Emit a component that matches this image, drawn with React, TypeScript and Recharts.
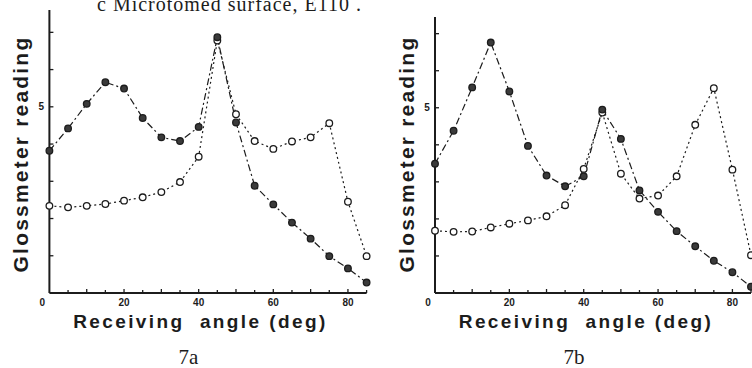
import React from "react"
import { LineChart, Line, XAxis, YAxis } from "recharts"

const angles = [0, 5, 10, 15, 20, 25, 30, 35, 40, 45, 50, 55, 60, 65, 70, 75, 80, 85]

// panel 7a
const filledA = [3.82, 4.42, 5.08, 5.66, 5.49, 4.7, 4.18, 4.08, 4.46, 6.87, 4.58, 2.88, 2.38, 1.89, 1.46, 0.99, 0.66, 0.28]
const openA = [2.34, 2.3, 2.34, 2.39, 2.48, 2.57, 2.71, 2.98, 3.66, 6.78, 4.8, 4.08, 3.87, 4.07, 4.18, 4.56, 2.45, 0.99]

// panel 7b
const filledB = [3.49, 4.38, 5.55, 6.76, 5.44, 3.97, 3.17, 2.88, 3.15, 4.95, 4.16, 2.77, 2.19, 1.67, 1.26, 0.87, 0.56, 0.17]
const openB = [1.68, 1.65, 1.66, 1.77, 1.87, 1.96, 2.07, 2.37, 3.35, 4.87, 3.22, 2.55, 2.63, 3.15, 4.54, 5.53, 3.33, 1.02]

const xTicks = [0, 5, 10, 15, 20, 25, 30, 35, 40, 45, 50, 55, 60, 65, 70, 75, 80, 85]
const xLabels = [0, 20, 40, 60, 80]
const yTicks = [0, 1, 2, 3, 4, 5, 6, 7]
const yLabels = [5]

const ink = "#1c1c1c"
const tickFont = "'Liberation Sans', Arial, sans-serif"

function XTick(props: any) {
  const { x, y, payload } = props
  const v = payload.value
  const show = xLabels.includes(v)
  return (
    <g>
      {v !== 0 && <line x1={x} y1={y} x2={x} y2={y - (v % 10 === 0 ? 4 : 3)} stroke={ink} strokeWidth={1.3} />}
      {show && (
        <text x={v === 0 ? x - 7 : x} y={y + 13} textAnchor="middle" fontSize={10} fontWeight="bold" fontFamily={tickFont} fill={ink}>
          {v}
        </text>
      )}
    </g>
  )
}

function YTick(props: any) {
  const { x, y, payload } = props
  const v = payload.value
  if (v === 0) return <g />
  return (
    <g>
      <line x1={x} y1={y} x2={x + 4} y2={y} stroke={ink} strokeWidth={1.3} />
      {yLabels.includes(v) && (
        <text x={x - 8} y={y + 3} textAnchor="middle" fontSize={10} fontWeight="bold" fontFamily={tickFont} fill={ink}>
          {v}
        </text>
      )}
    </g>
  )
}

function Panel({ filled, open, left, right, top, yMax, caption }: any) {
  const data = angles.map((a, i) => ({ angle: a, filled: filled[i], open: open[i] }))
  return (
    <div style={{ position: "relative", width: 376, height: 368 }}>
      <LineChart width={376} height={368} data={data} margin={{ top, right, bottom: 0, left: 0 }}>
        <XAxis
          dataKey="angle"
          type="number"
          domain={[0, 85]}
          ticks={xTicks}
          height={75}
          tickSize={0}
          tickMargin={0}
          tick={<XTick />}
          tickLine={false}
          axisLine={{ stroke: ink, strokeWidth: 2 }}
          interval={0}
        />
        <YAxis
          type="number"
          domain={[0, yMax]}
          ticks={yTicks}
          width={left}
          tickSize={0}
          tickMargin={0}
          tick={<YTick />}
          tickLine={false}
          axisLine={{ stroke: ink, strokeWidth: 2 }}
          interval={0}
        />
        <Line
          dataKey="open"
          stroke={ink}
          strokeWidth={1.2}
          strokeDasharray="2 3"
          dot={{ r: 3.3, fill: "#fff", stroke: ink, strokeWidth: 1.3, strokeDasharray: "none" }}
          isAnimationActive={false}
        />
        <Line
          dataKey="filled"
          stroke={ink}
          strokeWidth={1.2}
          strokeDasharray="7 3 2 3"
          dot={{ r: 3.3, fill: "#3a3a3a", stroke: ink, strokeWidth: 1.3, strokeDasharray: "none" }}
          isAnimationActive={false}
        />
      </LineChart>
      <div
        style={{
          position: "absolute",
          left: left - 28,
          top: 154,
          transform: "translate(-50%, -50%) rotate(-90deg)",
          whiteSpace: "nowrap",
          fontFamily: tickFont,
          fontWeight: "bold",
          fontSize: 21,
          letterSpacing: 2.2,
          color: ink,
        }}
      >
        Glossmeter reading
      </div>
      <div
        style={{
          position: "absolute",
          left: left + 151,
          top: 322,
          transform: "translate(-50%, -50%)",
          whiteSpace: "pre",
          fontFamily: tickFont,
          fontWeight: "bold",
          fontSize: 19,
          letterSpacing: 2.4,
          color: ink,
        }}
      >
        {"Receiving  angle (deg)"}
      </div>
      <div
        style={{
          position: "absolute",
          left: left + 139,
          top: 357,
          transform: "translate(-50%, -50%)",
          fontFamily: "'Liberation Serif', 'DejaVu Serif', serif",
          fontSize: 21,
          color: ink,
        }}
      >
        {caption}
      </div>
    </div>
  )
}

export default function App() {
  return (
    <div style={{ position: "fixed", left: 0, top: 0, width: 752, height: 368, background: "#fff", overflow: "hidden" }}>
      <div
        style={{
          position: "absolute",
          left: 97,
          top: -7,
          fontFamily: "'Liberation Serif', 'DejaVu Serif', serif",
          fontSize: 20,
          letterSpacing: 1,
          whiteSpace: "pre",
          color: ink,
        }}
      >
        {"c Microtomed surface, E110 ."}
      </div>
      <div style={{ position: "absolute", left: 0, top: 0 }}>
        <Panel filled={filledA} open={openA} left={49.4} right={9.4} top={10} yMax={7.6} caption="7a" />
      </div>
      <div style={{ position: "absolute", left: 376, top: 0 }}>
        <Panel filled={filledB} open={openB} left={59} right={1} top={17} yMax={7.45} caption="7b" />
      </div>
    </div>
  )
}
